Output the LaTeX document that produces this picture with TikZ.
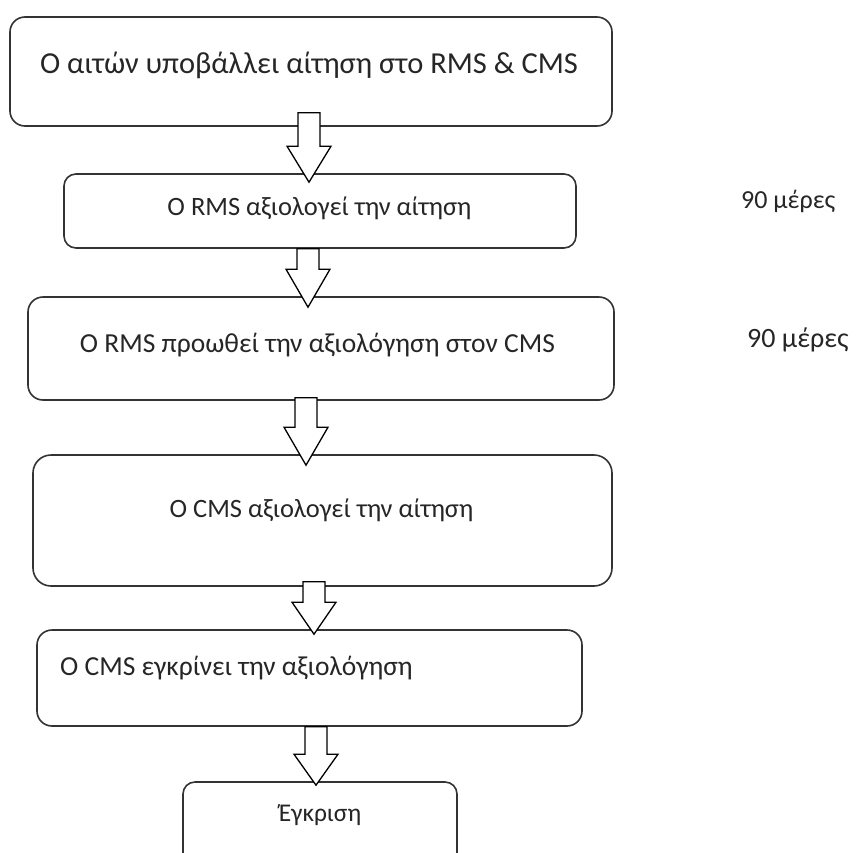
\documentclass[tikz,border=0pt]{standalone}
\usepackage{fontspec}
\setmainfont{Carlito}
\usetikzlibrary{calc}

\tikzset{
  stepbox/.style={draw=black!80, line width=1.6pt, rounded corners=15pt, inner sep=0pt},
  steptext/.style={text=black!85, anchor=base, inner sep=0pt},
  daystext/.style={text=black!85, anchor=base west, inner sep=0pt},
  blockarrow/.style={draw=black, line width=1.3pt, fill=white, line join=miter}
}

% hollow block arrow from one box down into the next
% #1 from, #2 to, #3 x of the shaft, #4 shaft start above #1.south, #5 tip below #2.north
\newcommand{\flowarrow}[5]{%
  \draw[blockarrow] let \p1 = (#1.south), \p2 = (#2.north) in
    ({#3-11},{\y1+#4}) -- ({#3+11},{\y1+#4}) -- ({#3+11},{\y2+27})
    -- ({#3+22},{\y2+27}) -- (#3,{\y2-#5}) -- ({#3-22},{\y2+27})
    -- ({#3-11},{\y2+27}) -- cycle;
}

\begin{document}
\begin{tikzpicture}[x=1pt, y=-1pt]

% page frame, same size as the original
\useasboundingbox (0,0) rectangle (859,852);
\clip (0,0) rectangle (859,852);

% Define the boxes
\node[stepbox, minimum width=602, minimum height=109] (b1) at (311,71.5) {};
\node[stepbox, minimum width=512, minimum height=74, rounded corners=12pt] (b2) at (320,211) {};
\node[stepbox, minimum width=586, minimum height=103] (b3) at (321,348.5) {};
\node[stepbox, minimum width=579, minimum height=131, rounded corners=18pt] (b4) at (322.5,520.5) {};
\node[stepbox, minimum width=545, minimum height=96] (b5) at (309.5,678) {};
\node[stepbox, minimum width=274, minimum height=98, rounded corners=12pt] (b6) at (320,831) {};

% Texts in the boxes
\node[steptext, font=\fontsize{30.5}{36}\selectfont] (t1) at (309,73) {Ο αιτών υποβάλλει αίτηση στο RMS \& CMS};
\node[steptext, font=\fontsize{26.5}{31}\selectfont] (t2) at (319.5,215) {Ο RMS αξιολογεί την αίτηση};
\node[steptext, font=\fontsize{27.5}{32}\selectfont] (t3) at (317.5,352) {Ο RMS προωθεί την αξιολόγηση στον CMS};
\node[steptext, font=\fontsize{26.5}{31}\selectfont] (t4) at (321.5,517) {Ο CMS αξιολογεί την αίτηση};
\node[daystext, font=\fontsize{27.5}{32}\selectfont] (t5) at (60,675) {Ο CMS εγκρίνει την αξιολόγηση};
\node[steptext, font=\fontsize{25.5}{30}\selectfont] (t6) at (320,821) {Έγκριση};

% Durations on the right
\node[daystext, font=\fontsize{26}{31}\selectfont] (d1) at (741,208) {90 μέρες};
\node[daystext, font=\fontsize{28}{33}\selectfont] (d2) at (747,347) {90 μέρες};

% Arrows between the boxes
\flowarrow{b1}{b2}{309}{14}{9}
\flowarrow{b2}{b3}{308}{0}{11}
\flowarrow{b3}{b4}{306}{3}{11}
\flowarrow{b4}{b5}{314}{5}{5}
\flowarrow{b5}{b6}{316}{0}{4}

\end{tikzpicture}
\end{document}
